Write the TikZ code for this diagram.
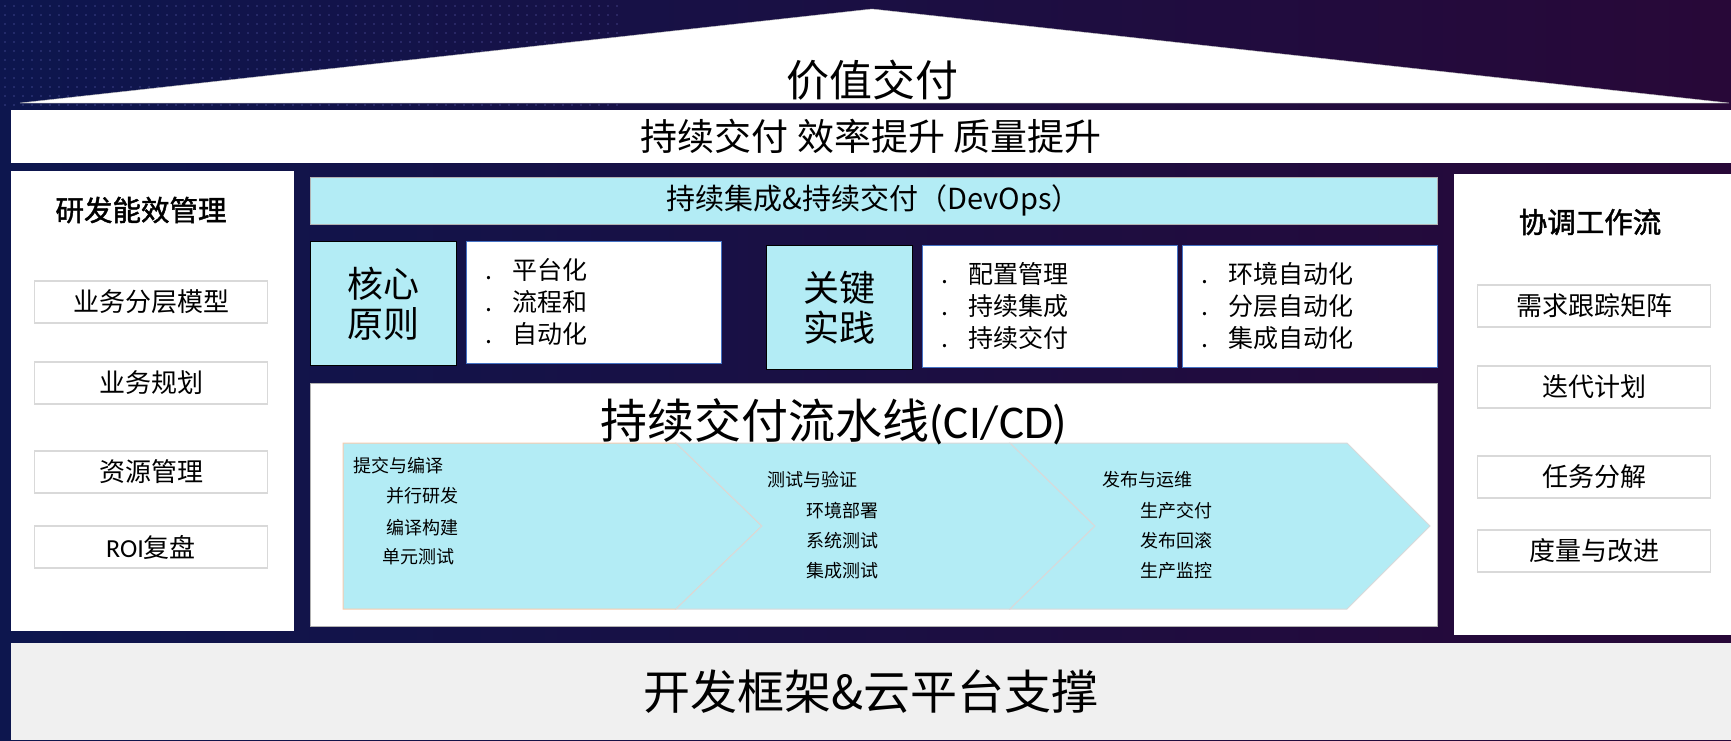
\documentclass[tikz,border=0pt]{standalone}
\usepackage{fontspec}
\setmainfont{Noto Sans CJK SC}
\newfontfamily\cjkbf[FakeBold=1.6]{Noto Sans CJK SC}
\newfontfamily\calibri{Carlito}
\definecolor{navy}{RGB}{13,22,78}
\definecolor{plum}{RGB}{40,8,56}
\definecolor{paleblue}{RGB}{179,236,245}
\definecolor{linegray}{RGB}{217,217,217}
\definecolor{peach}{RGB}{248,203,173}
\definecolor{boxblue}{RGB}{68,114,196}
\definecolor{floorgray}{RGB}{240,240,240}
\newcommand{\fsz}[2]{\fontsize{#1}{#2}\selectfont}
\tikzset{
  panel/.style={fill=white,inner sep=0pt,anchor=north west},
  item/.style={draw=linegray,line width=1.5pt,fill=white,minimum width=233pt,minimum height=42pt,inner sep=0pt,font=\fsz{26}{26}},
  tag/.style={draw=black,line width=0.8pt,fill=paleblue,anchor=north west,minimum width=146pt,minimum height=124pt,inner sep=0pt,align=center,font=\fsz{36}{40}},
  listbox/.style={draw=boxblue,line width=0.8pt,fill=white,anchor=north west,minimum height=122pt,text width=217pt,inner xsep=19pt,inner ysep=0pt,align=left,font=\fsz{25}{32}},
  stage/.style={fill=paleblue,line width=1pt},
  phase/.style={anchor=west,inner sep=0pt,font=\fsz{18}{18}}
}
\begin{document}
\begin{tikzpicture}[x=1pt,y=-1pt]
  \useasboundingbox (0,0) rectangle (1731,740);
  \fill[left color=navy,right color=plum] (0,0) rectangle (1731,740);
  \foreach \x in {5,14,...,620} \foreach \y in {6,15,...,105}
    \fill[blue!40!white,opacity=0.22] (\x,\y) circle (1.1pt);

  \fill[white,draw=gray!50] (20,103) -- (872,9) -- (1729,103) -- cycle;
  \node at (872,80) (V) { \fsz{43}{43}价值交付 };
  \node[panel,minimum width=1720pt,minimum height=53pt,font=\fsz{37}{37}] at (11,110) (G) { 持续交付 效率提升 质量提升 };

  \node[panel,minimum width=283pt,minimum height=460pt] at (11,171) (L) {};
  \node at (141,210) (Lt) { \cjkbf\fsz{28.5}{28}研发能效管理 };
  \node[item] at (151,302) (L1) { 业务分层模型 };
  \node[item] at (151,383) (L2) { 业务规划 };
  \node[item] at (151,472) (L3) { 资源管理 };
  \node[item] at (151,547) (L4) { {\calibri ROI}复盘 };

  \node[panel,minimum width=277pt,minimum height=461pt] at (1454,174) (R) {};
  \node at (1590,222) (Rt) { \cjkbf\fsz{28.5}{28}协调工作流 };
  \node[item] at (1594,306) (R1) { 需求跟踪矩阵 };
  \node[item] at (1594,387) (R2) { 迭代计划 };
  \node[item] at (1594,477) (R3) { 任务分解 };
  \node[item] at (1594,551) (R4) { 度量与改进 };

  \node[anchor=north west,fill=paleblue,draw=gray!60,minimum width=1127pt,minimum height=47pt,inner sep=0pt,font=\fsz{29}{29}] at (310,177) (D) { 持续集成\&持续交付（DevOps） };
  \node[tag] at (310,241) (K1) { 核心\\原则 };
  \node[listbox] at (466,241) (P1) { .\hspace{20pt}平台化\\.\hspace{20pt}流程和\\.\hspace{20pt}自动化 };
  \node[tag] at (766,245) (K2) { 关键\\实践 };
  \node[listbox] at (922,245) (P2) { .\hspace{20pt}配置管理\\.\hspace{20pt}持续集成\\.\hspace{20pt}持续交付 };
  \node[listbox] at (1182,245) (P3) { .\hspace{20pt}环境自动化\\.\hspace{20pt}分层自动化\\.\hspace{20pt}集成自动化 };

  \node[panel,draw=gray!60,minimum width=1127pt,minimum height=243pt] at (310,383) (C) {};
  \draw[stage,draw=peach] (343,443) -- (676,443) -- (762,526) -- (676,609) -- (343,609) -- cycle;
  \draw[stage,draw=linegray] (676,443) -- (1010,443) -- (1095,526) -- (1010,609) -- (676,609) -- (762,526) -- cycle;
  \draw[stage,draw=linegray] (1010,443) -- (1347,443) -- (1430,526) -- (1347,609) -- (1010,609) -- (1095,526) -- cycle;
  \node at (834,422) (Ct) { \fsz{47}{47}持续交付流水线{\calibri (CI/CD)} };

  \node[phase] at (353,466) (S1) { 提交与编译 };
  \node[phase] at (386,496) (S11) { 并行研发 };
  \node[phase] at (386,528) (S12) { 编译构建 };
  \node[phase] at (382,557) (S13) { 单元测试 };
  \node[phase] at (767,480) (S2) { 测试与验证 };
  \node[phase] at (806,511) (S21) { 环境部署 };
  \node[phase] at (806,541) (S22) { 系统测试 };
  \node[phase] at (806,571) (S23) { 集成测试 };
  \node[phase] at (1102,480) (S3) { 发布与运维 };
  \node[phase] at (1140,511) (S31) { 生产交付 };
  \node[phase] at (1140,541) (S32) { 发布回滚 };
  \node[phase] at (1140,571) (S33) { 生产监控 };

  \node[panel,fill=floorgray,minimum width=1720pt,minimum height=97pt,font=\fsz{47}{47}] at (11,643) (F) { 开发框架\&云平台支撑 };
\end{tikzpicture}
\end{document}
